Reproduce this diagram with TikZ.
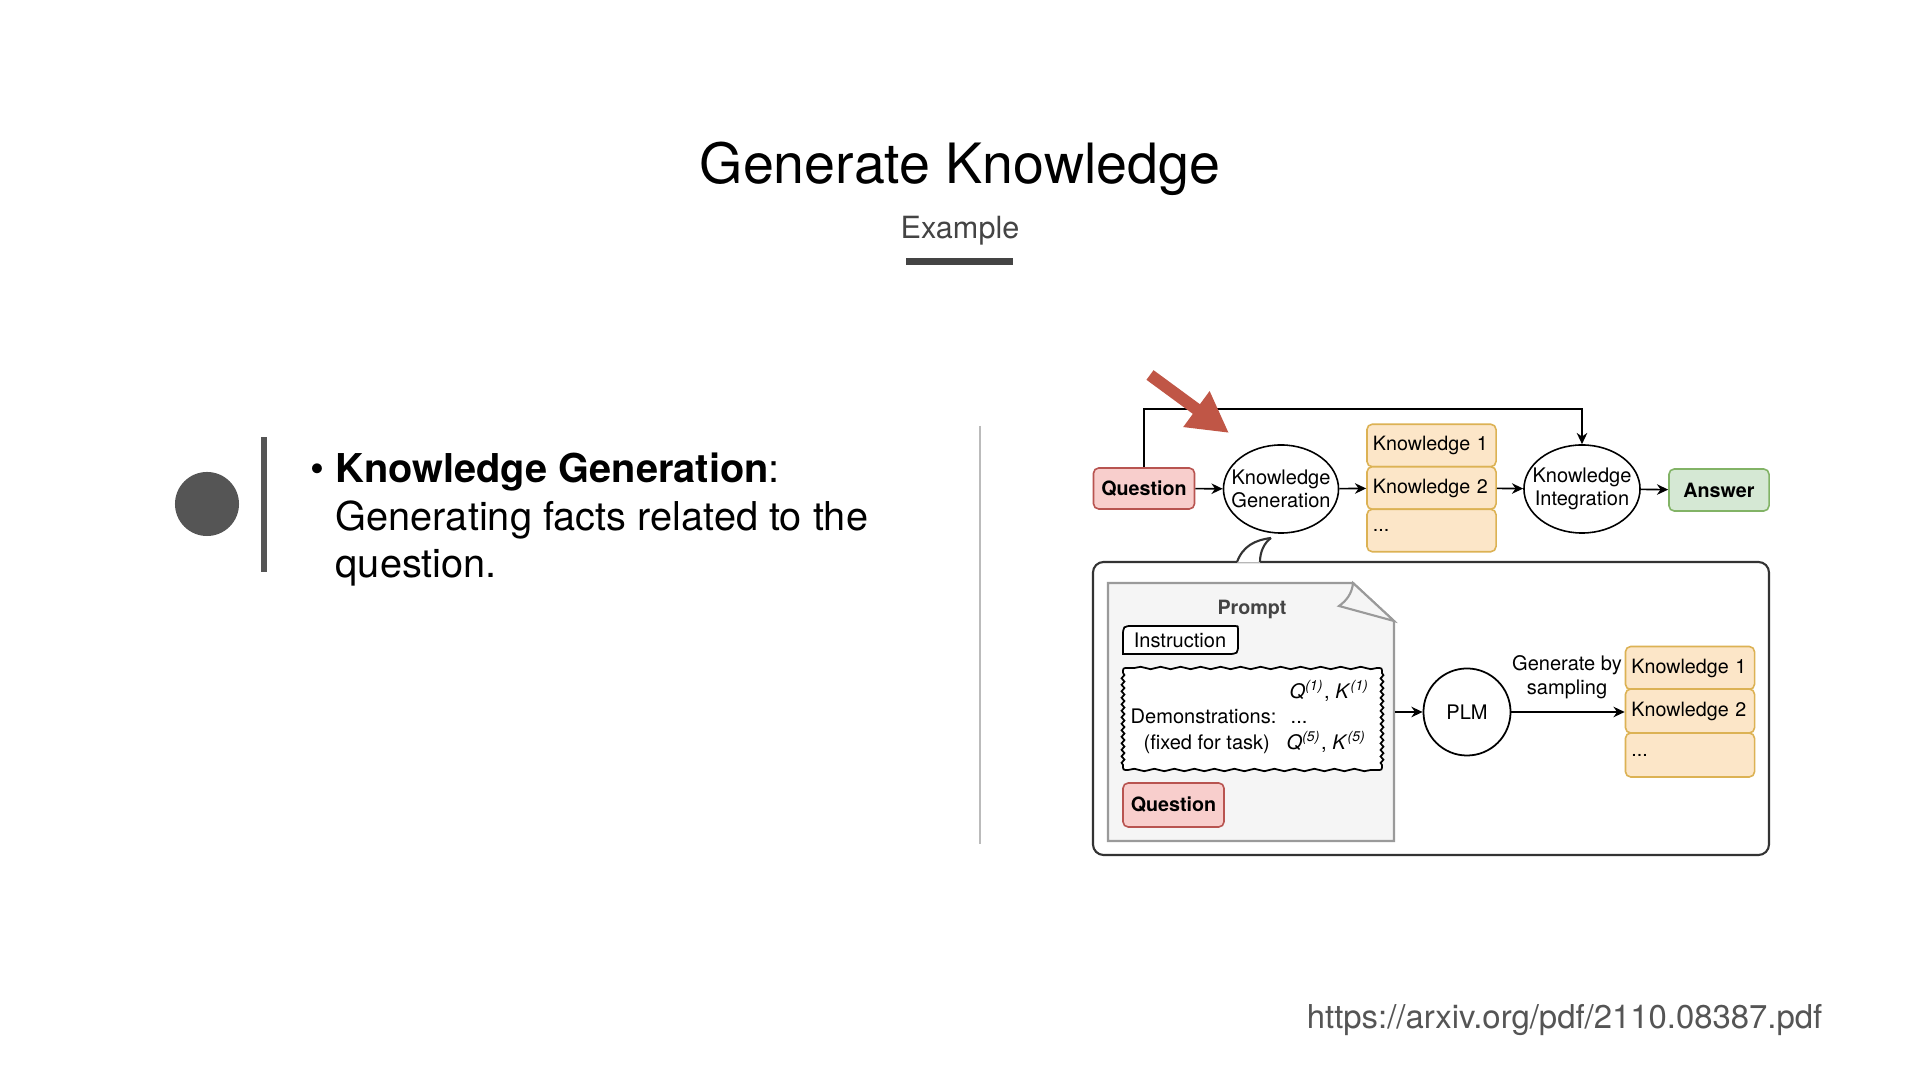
\documentclass[tikz,border=0pt]{standalone}
\usepackage{fontspec}
\setmainfont{TeX Gyre Heros}
\usetikzlibrary{shapes.geometric,arrows.meta,decorations.pathmorphing,calc}

\definecolor{qfill}{HTML}{F8CECC}
\definecolor{qdraw}{HTML}{B85450}
\definecolor{afill}{HTML}{D5E8D4}
\definecolor{adraw}{HTML}{82B366}
\definecolor{kfill}{HTML}{FCE6C8}
\definecolor{kdraw}{HTML}{DCB254}
\definecolor{notefill}{HTML}{F5F5F5}
\definecolor{notedraw}{HTML}{9A9A9A}
\definecolor{redarrow}{RGB}{192,86,70}
\definecolor{dark}{HTML}{444444}
\definecolor{mid}{HTML}{555555}
\definecolor{rule}{HTML}{BBBBBB}
\definecolor{frame}{HTML}{333333}

\begin{document}
\begin{tikzpicture}[x=0.01cm,y=-0.01cm,
  txt/.style={inner sep=0pt},
  dgm/.style={font=\fontsize{5.7}{6.7}\selectfont},
  qbox/.style={dgm, draw=qdraw, fill=qfill, rounded corners=1.5pt, line width=0.45pt,
    font=\fontsize{5.6}{6.6}\selectfont\bfseries, minimum width=1.01cm, minimum height=0.41cm, inner sep=0pt},
  abox/.style={qbox, draw=adraw, fill=afill},
  kbox/.style={draw=kdraw, fill=kfill, rounded corners=1.5pt, line width=0.45pt,
    font=\fontsize{5.6}{6.6}\selectfont,
    text width=1.17cm, align=left, inner xsep=0.06cm, inner ysep=0pt, minimum height=0.425cm},
  oval/.style={draw, ellipse, line width=0.45pt, inner sep=0pt,
    minimum width=1.15cm, minimum height=0.88cm},
  ovaltext/.style={txt, dgm, align=center},
  arr/.style={line width=0.45pt, -{Stealth[length=3.2pt,width=3pt]}},
  wavyh/.style={decoration={snake, segment length=0.2cm, amplitude=0.012cm}},
  wavyv/.style={decoration={snake, segment length=0.065cm, amplitude=0.014cm}},
]
\fill[white] (0,0) rectangle (1920,1080);
\useasboundingbox (0,0) rectangle (1920,1080);

% ---------- heading ----------
\node[txt, anchor=base, font=\fontsize{15.8}{19}\selectfont] (title) at (960,184) {Generate Knowledge};
\node[txt, anchor=base, text=dark, font=\fontsize{8.7}{10}\selectfont] (sub) at (960,239) {Example};
\fill[dark] (906,258) rectangle (1013,265);

% ---------- left column ----------
\node[circle, fill=mid, minimum size=0.64cm, inner sep=0pt] (dot) at (207,504) {};
\fill[mid] (261,437) rectangle (267,572);
\begin{scope}[every node/.style={txt, anchor=base west, font=\fontsize{11.3}{13.6}\selectfont}]
  \node (bul) at (310,483) {\textbullet};
  \node (l1) at (335,483) {\textbf{Knowledge Generation}:};
  \node (l2) at (335,531) {Generating facts related to the};
  \node (l3) at (335,578) {question.};
\end{scope}

% divider
\draw[rule, line width=0.7pt] (980,426) -- (980,844);

% ---------- upper pipeline ----------
\node[qbox] (q) at (1144,488.5) {Question};
\node[oval] (kg) at (1281,489) {};
\node[ovaltext] (kgt) at (kg) {Knowledge\\Generation};
\node[kbox] (k1) at (1431.5,445.5) {\mbox{Knowledge 1}};
\node[kbox] (k2) at (1431.5,488) {\mbox{Knowledge 2}};
\node[kbox] (k3) at (1431.5,530.5) {...};
\node[oval, minimum width=1.16cm] (ki) at (1582,489) {};
\node[ovaltext] (kit) at (ki) {Knowledge\\Integration};
\node[abox, minimum width=1.0cm, minimum height=0.42cm] (ans) at (1719,490) {Answer};

\draw[arr] (q) -- (kg);
\draw[arr] (kg) -- (k2);
\draw[arr] (k2) -- (ki);
\draw[arr] (ki) -- (ans);
\coordinate (loop) at (1144,409);
\draw[arr] (q.north) -- (loop) -| (ki.north);

% pointer
\coordinate (ptail) at (1150,375);
\coordinate (ptip) at (1229,433);
\draw[redarrow, line width=3.4pt, -{Triangle[length=11.5pt,width=11.8pt]}] (ptail) -- (ptip);

% ---------- lower detail panel ----------
\draw[frame, line width=0.6pt, rounded corners=3pt] (1093,562) rectangle (1769,855);
% callout tail towards the generation step
\fill[white] (1237,562.6) .. controls (1243,546) and (1255,540) .. (1271,538)
  .. controls (1264,543) and (1260,552) .. (1260,562.6) -- cycle;
\draw[frame, line width=0.6pt] (1237,562) .. controls (1243,546) and (1255,540) .. (1271,538);
\draw[frame, line width=0.6pt] (1260,562) .. controls (1260,552) and (1264,543) .. (1271,538);

% prompt sheet with folded corner
\node[minimum width=2.86cm, minimum height=2.58cm, inner sep=0pt] (note) at (1251,712) {};
\filldraw[fill=notefill, draw=notedraw, line width=0.6pt]
  (1108,583) -- (1353,583) -- (1394,621) -- (1394,841) -- (1108,841) -- cycle;
\filldraw[fill=notefill, draw=notedraw, line width=0.6pt]
  (1353,583) .. controls (1352,594) and (1346,601) .. (1339,606) -- (1394,621) -- cycle;
\node[txt, font=\fontsize{5.6}{6.6}\selectfont\bfseries, text=dark] (ptitle) at (1252,609) {Prompt};

% instruction tab
\draw[line width=0.5pt, fill=white] (1123,654) -- (1123,637) .. controls (1123,626) .. (1134,626)
  -- (1235,626) .. controls (1238,626) .. (1238,629)
  -- (1238,643) .. controls (1238,654) .. (1227,654) -- cycle;
\node[txt, dgm] (ins) at (1180,640) {Instruction};

% demonstrations
\fill[white] (1123,668) rectangle (1382,770);
\draw[line width=0.5pt]
  (1123,673) decorate[wavyv] { -- (1123,765) } .. controls (1123,770) .. (1128,770)
  decorate[wavyh] { -- (1377,770) } .. controls (1382,770) .. (1382,765)
  decorate[wavyv] { -- (1382,673) } .. controls (1382,668) .. (1377,668)
  decorate[wavyh] { -- (1128,668) } .. controls (1123,668) .. (1123,673);
\begin{scope}[every node/.style={txt, dgm, anchor=base west}]
  \node (d1) at (1289,699) {\textit{Q}\textsuperscript{\textit{(1)}}, \textit{K}\textsuperscript{\textit{(1)}}};
  \node (d2) at (1130,724) {Demonstrations:};
  \node (d3) at (1290,724) {...};
  \node (d4) at (1143,750) {(fixed for task)};
  \node (d5) at (1286,750) {\textit{Q}\textsuperscript{\textit{(5)}}, \textit{K}\textsuperscript{\textit{(5)}}};
\end{scope}

\node[qbox, minimum width=1.01cm, minimum height=0.44cm] (q2) at (1173.5,805) {Question};

% language model
\node[dgm, draw, circle, line width=0.5pt, minimum size=0.87cm, inner sep=0pt] (plm) at (1467,712) {PLM};
\node[kbox, minimum height=0.43cm] (m1) at (1690,668) {\mbox{Knowledge 1}};
\node[kbox, minimum height=0.44cm] (m2) at (1690,711) {\mbox{Knowledge 2}};
\node[kbox, minimum height=0.44cm] (m3) at (1690,755) {...};

\draw[arr] (note.east |- plm) -- (plm);
\draw[arr] (plm) -- (m2.west |- plm);
\node[txt, dgm, align=center] (gen) at (1567,677) {Generate by\\sampling};

% source
\node[txt, anchor=base east, text=mid, font=\fontsize{9.35}{11}\selectfont] (url) at (1823,1029) {https://arxiv.org/pdf/2110.08387.pdf};
\end{tikzpicture}
\end{document}
